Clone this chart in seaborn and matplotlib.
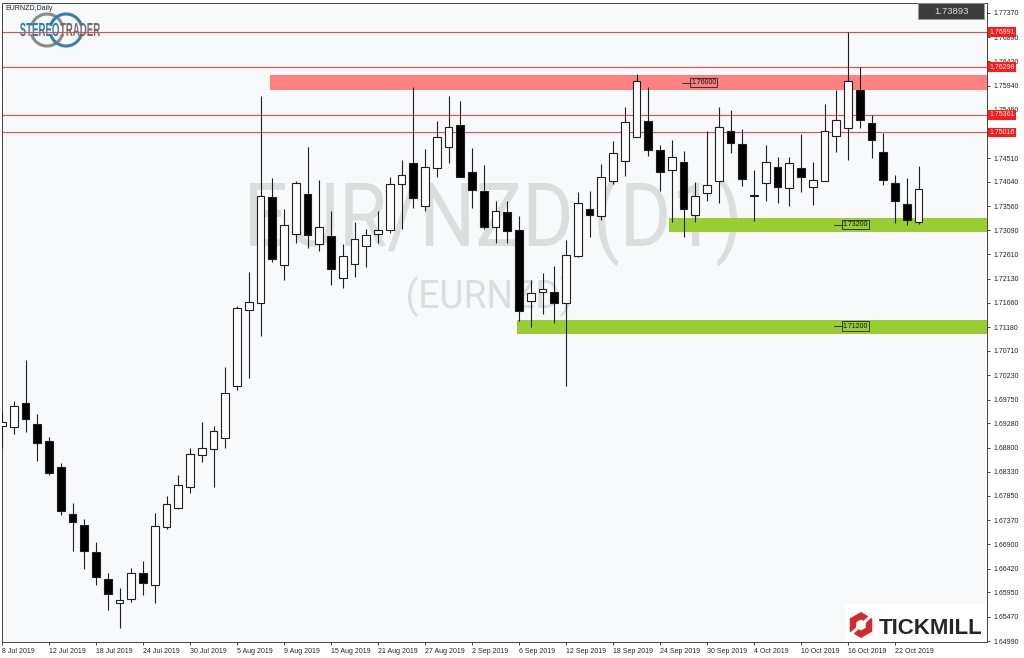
import numpy as np
import pandas as pd
import seaborn as sns
import matplotlib
matplotlib.use("Agg")
import matplotlib.pyplot as plt
from matplotlib.patches import Rectangle, PathPatch, Arc, RegularPolygon
from matplotlib.textpath import TextPath
from matplotlib.font_manager import FontProperties
from matplotlib.transforms import Affine2D

sns.set_theme(style="white")
plt.rcParams['font.family'] = ['Liberation Sans', 'DejaVu Sans']

# EURNZD daily candles, 8 Jul 2019 - 24 Oct 2019
opens = [1.6923, 1.6921, 1.6968, 1.6927, 1.6893, 1.6842, 1.6750, 1.6728, 1.6675, 1.6621,
         1.6574, 1.6582, 1.6633, 1.6610, 1.6724, 1.6761, 1.6803, 1.6866, 1.6878, 1.6899,
         1.7002, 1.7152, 1.7165, 1.7374, 1.7240, 1.7301, 1.7380, 1.7282, 1.7298, 1.7215,
         1.7242, 1.7278, 1.7301, 1.7309, 1.7400, 1.7441, 1.7357, 1.7432, 1.7473, 1.7516,
         1.7424, 1.7386, 1.7315, 1.7345, 1.7309, 1.7169, 1.7187, 1.7187, 1.7165, 1.7258,
         1.7351, 1.7337, 1.7406, 1.7445, 1.7493, 1.7524, 1.7467, 1.7428, 1.7443, 1.7339,
         1.7382, 1.7406, 1.7504, 1.7479, 1.7376, 1.7402, 1.7434, 1.7392, 1.7432, 1.7394,
         1.7406, 1.7495, 1.7510, 1.7585, 1.7520, 1.7463, 1.7402, 1.7361, 1.7325]
highs = [1.6951, 1.6972, 1.7053, 1.6947, 1.6901, 1.6850, 1.6771, 1.6740, 1.6694, 1.6633,
         1.6604, 1.6643, 1.6657, 1.6752, 1.6785, 1.6826, 1.6880, 1.6931, 1.6923, 1.7039,
         1.7160, 1.7227, 1.7573, 1.7412, 1.7351, 1.7406, 1.7473, 1.7408, 1.7347, 1.7282,
         1.7325, 1.7311, 1.7347, 1.7414, 1.7447, 1.7591, 1.7469, 1.7524, 1.7573, 1.7564,
         1.7471, 1.7437, 1.7366, 1.7366, 1.7337, 1.7211, 1.7225, 1.7238, 1.7290, 1.7384,
         1.7386, 1.7439, 1.7485, 1.7552, 1.7617, 1.7591, 1.7477, 1.7487, 1.7465, 1.7404,
         1.7504, 1.7552, 1.7546, 1.7508, 1.7428, 1.7477, 1.7453, 1.7453, 1.7499, 1.7443,
         1.7558, 1.7585, 1.7699, 1.7630, 1.7536, 1.7501, 1.7418, 1.7412, 1.7435]
lows = [1.6880, 1.6907, 1.6911, 1.6854, 1.6826, 1.6748, 1.6677, 1.6641, 1.6610, 1.6560,
        1.6525, 1.6576, 1.6590, 1.6574, 1.6720, 1.6759, 1.6791, 1.6852, 1.6803, 1.6880,
        1.6994, 1.7018, 1.7100, 1.7246, 1.7211, 1.7284, 1.7274, 1.7268, 1.7201, 1.7195,
        1.7217, 1.7236, 1.7284, 1.7303, 1.7311, 1.7353, 1.7347, 1.7414, 1.7441, 1.7414,
        1.7353, 1.7311, 1.7284, 1.7284, 1.7130, 1.7118, 1.7144, 1.7126, 1.7002, 1.7256,
        1.7296, 1.7329, 1.7400, 1.7416, 1.7493, 1.7455, 1.7386, 1.7325, 1.7296, 1.7325,
        1.7366, 1.7363, 1.7461, 1.7396, 1.7327, 1.7366, 1.7363, 1.7357, 1.7384, 1.7359,
        1.7406, 1.7463, 1.7447, 1.7510, 1.7451, 1.7398, 1.7323, 1.7319, 1.7321]
closes = [1.6931, 1.6962, 1.6937, 1.6890, 1.6830, 1.6755, 1.6734, 1.6677, 1.6625, 1.6592,
          1.6580, 1.6633, 1.6614, 1.6726, 1.6769, 1.6807, 1.6868, 1.6880, 1.6913, 1.6988,
          1.7156, 1.7167, 1.7376, 1.7252, 1.7319, 1.7402, 1.7299, 1.7315, 1.7232, 1.7258,
          1.7292, 1.7299, 1.7309, 1.7400, 1.7418, 1.7372, 1.7434, 1.7493, 1.7512, 1.7414,
          1.7388, 1.7315, 1.7347, 1.7307, 1.7150, 1.7185, 1.7193, 1.7165, 1.7260, 1.7363,
          1.7339, 1.7414, 1.7461, 1.7522, 1.7603, 1.7467, 1.7424, 1.7453, 1.7351, 1.7376,
          1.7398, 1.7512, 1.7481, 1.7410, 1.7378, 1.7443, 1.7394, 1.7441, 1.7414, 1.7408,
          1.7504, 1.7526, 1.7603, 1.7526, 1.7487, 1.7408, 1.7366, 1.7329, 1.73893]

# 1.74980 sits under the 1.75016 marker on the chart, so it is left out
price_ticks = [1.77370, 1.76890, 1.76420, 1.75940, 1.75460, 1.74510, 1.74040,
               1.73560, 1.73090, 1.72610, 1.72130, 1.71660, 1.71180, 1.70710, 1.70230,
               1.69750, 1.69280, 1.68800, 1.68330, 1.67850, 1.67370, 1.66900, 1.66420,
               1.65950, 1.65470, 1.64990]

level_lines = [1.76991, 1.76298, 1.75361, 1.75016]
resistance_zone = (1.7585, 1.7615)
support_upper = (1.7305, 1.7333)
support_lower = (1.7104, 1.7132)
zone_labels = ['1.76000', '1.73200', '1.71200']
last_price = '1.73893'

df = pd.DataFrame({'open': opens, 'high': highs, 'low': lows, 'close': closes})
df['date'] = pd.bdate_range('2019-07-08', periods=len(df))
df['up'] = df['close'] >= df['open']
df['body_lo'] = df[['open', 'close']].min(axis=1)
df['body_h'] = (df['close'] - df['open']).abs().clip(lower=0.0002)

W, H = 1024, 658
fig = plt.figure(figsize=(W / 100, H / 100), dpi=100, facecolor='white')

# background layer in pixel coordinates (plot background, watermark, logo)
bg = fig.add_axes([0, 0, 1, 1], zorder=0)
bg.set_xlim(0, W)
bg.set_ylim(H, 0)
bg.axis('off')
bg.add_patch(Rectangle((2, 2.7), 985, 639.3, fc='#f8f9fb', ec='none'))


def path_text(axo, s, x0, x1, top, base, color, family='Liberation Sans', weight='normal'):
    fp = FontProperties(family=family, weight=weight)
    p = TextPath((0, 0), s, size=100, prop=fp)
    ext = p.get_extents()
    cap = TextPath((0, 0), 'E', size=100, prop=fp).get_extents().y1
    sx = (x1 - x0) / ext.width
    sy = (base - top) / cap
    tr = Affine2D().translate(-ext.x0, 0).scale(sx, -sy).translate(x0, base)
    axo.add_patch(PathPatch(tr.transform_path(p), fc=color, ec='none'))


path_text(bg, 'EUR/NZD (D1)', 250, 737, 183, 246, '#dcdddd', family='Roboto')
path_text(bg, '(EURNZD)', 408, 570, 280, 308, '#dcdddd', family='Roboto')

# stereotrader logo
for cx, col in [(47, '#8a8a8a'), (66, '#3580ab')]:
    bg.add_patch(Arc((cx, 30), 32, 32, theta1=15, theta2=165, color=col, lw=2.2))
    bg.add_patch(Arc((cx, 30), 32, 32, theta1=195, theta2=345, color=col, lw=2.2))
path_text(bg, 'STEREO', 20, 59, 23, 36, '#3580ab', weight='bold')
path_text(bg, 'TRADER', 60, 100, 23, 36, '#6e6e6e', weight='bold')

# main chart
ax = fig.add_axes([2 / W, 16 / H, 985 / W, 639.3 / H], zorder=1)
ax.set_facecolor('none')
xmax = 985 / 11.75
ax.set_xlim(0, xmax)
ax.set_ylim(1.64972, 1.77573)

ax.add_patch(Rectangle((22.8, resistance_zone[0]), xmax - 22.8,
                       resistance_zone[1] - resistance_zone[0], fc='#ff8080', ec='none', zorder=1))
ax.add_patch(Rectangle((56.75, support_upper[0]), xmax - 56.75,
                       support_upper[1] - support_upper[0], fc='#9acd32', ec='none', zorder=1))
ax.add_patch(Rectangle((43.8, support_lower[0]), xmax - 43.8,
                       support_lower[1] - support_lower[0], fc='#9acd32', ec='none', zorder=1))
for v in level_lines:
    ax.axhline(v, color='#f04848', lw=0.8, zorder=2)

ax.vlines(df.index, df['low'], df['high'], color='#1e1e1e', lw=0.8, zorder=3)
ax.bar(df.index, df['body_h'], bottom=df['body_lo'], width=0.68,
       color=np.where(df['up'], 'white', 'black'), edgecolor='#1e1e1e', linewidth=0.8, zorder=4)

for lab, x0 in zip(zone_labels, [57.9, 70.8, 70.8]):
    y = float(lab)
    ax.plot([x0, x0 + 0.7], [y, y], color='#333333', lw=0.7, zorder=5)
    ax.text(x0 + 0.75, y, lab, fontsize=5, va='center', ha='left', color='#111111', zorder=6,
            bbox=dict(boxstyle='square,pad=0.15', fc='none', ec='#222222', lw=0.6))

# right price scale
ax.yaxis.tick_right()
ax.set_yticks(price_ticks)
ax.set_yticklabels([f'{v:.5f}' for v in price_ticks])
ax.tick_params(axis='y', right=True, left=False, labelright=True, labelleft=False,
               length=2.5, width=0.6, pad=2, labelsize=5, colors='#222222')
for v in level_lines:
    ax.text(1.0025, v, f'{v:.5f}', transform=ax.get_yaxis_transform(), fontsize=5,
            color='white', va='center', ha='left', zorder=10, clip_on=False,
            bbox=dict(boxstyle='square,pad=0.2', fc='#ff1a1a', ec='none'))

# date axis, a label every 4 bars
xt = df.index[::4]
ax.set_xticks(xt)
ax.set_xticklabels([f"{d.day} {d.strftime('%b %Y')}" for d in df['date'][::4]], ha='left')
ax.tick_params(axis='x', bottom=True, length=2.5, width=0.6, pad=1.5, labelsize=5, colors='#222222')
ax.grid(False)
for sp in ax.spines.values():
    sp.set_color('#444444')
    sp.set_linewidth(0.7)

# top layer: header, current price, tickmill logo
top = fig.add_axes([0, 0, 1, 1], zorder=2)
top.set_xlim(0, W)
top.set_ylim(H, 0)
top.axis('off')
top.text(5, 8, 'EURNZD,Daily', fontsize=5, va='center', ha='left', color='#222222')
top.add_patch(Rectangle((918, 3), 66, 16, fc='#3b3b3b', ec='#9a9a9a', lw=0.6))
top.text(951, 11.5, last_price, fontsize=6.8, va='center', ha='center', color='#dddddd')

top.add_patch(Rectangle((845, 604), 141, 37.5, fc='white', ec='none'))
top.add_patch(RegularPolygon((861, 625), numVertices=6, radius=13, orientation=0, fc='#d42a2a', ec='none'))
top.add_patch(RegularPolygon((861, 625), numVertices=6, radius=5.5, orientation=0, fc='white', ec='none'))
top.plot([851, 871], [634, 616], color='white', lw=2.2)
top.text(879, 634, 'TICKMILL', fontsize=16, fontweight='bold', va='baseline', ha='left', color='#262626')

fig.savefig('out.png', dpi=100, facecolor='white')
